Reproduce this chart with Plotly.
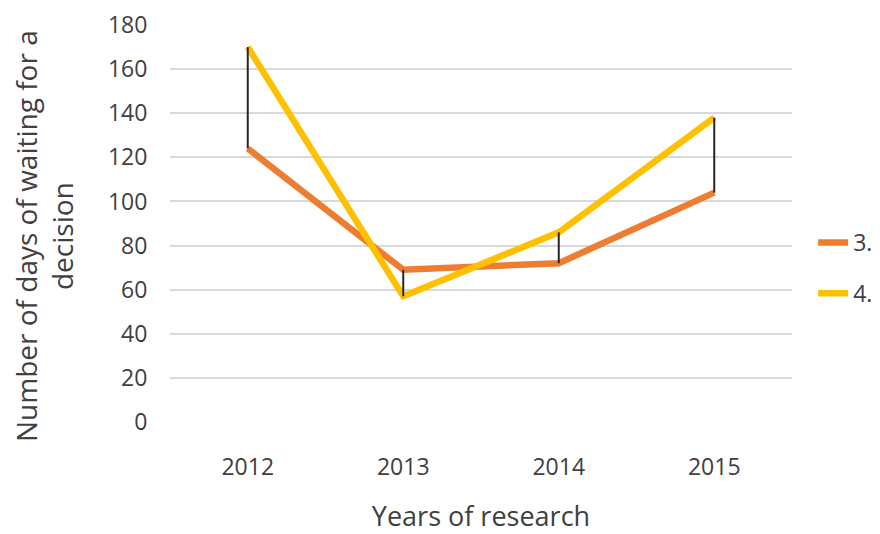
import plotly.graph_objects as go

years = ["2012", "2013", "2014", "2015"]
series3 = [124, 69, 72, 104]
series4 = [170, 57, 86, 138]
names = ["3.", "4."]
colors = ["#ED7D31", "#FFC000"]
y_ticks = [0, 20, 40, 60, 80, 100, 120, 140, 160, 180]
y_title = "Number of days of waiting for a<br>decision"
x_title = "Years of research"

FONT = "Open Sans"
TXT = "#404040"

fig = go.Figure()
for name, vals, col in zip(names, [series3, series4], colors):
    fig.add_trace(go.Scatter(
        x=years, y=vals, mode="lines", name=name,
        line=dict(color=col, width=6.5), legendgroup=name,
    ))

# high-low lines
hx, hy = [], []
for yr, a, b in zip(years, series3, series4):
    hx += [yr, yr, None]
    hy += [a, b, None]
fig.add_trace(go.Scatter(x=hx, y=hy, mode="lines", showlegend=False,
                         line=dict(color="#262626", width=2)))

fig.add_annotation(text=y_title, textangle=-90, xref="paper", yref="paper",
                   x=(44 - 170) / 622, y=(422 - 236) / 397,
                   xanchor="center", yanchor="middle", showarrow=False,
                   font=dict(size=28, color=TXT, family=FONT))

fig.update_layout(
    width=880, height=534,
    margin=dict(l=170, r=88, t=25, b=112, autoexpand=False),
    paper_bgcolor="white", plot_bgcolor="white",
    font=dict(family=FONT, color=TXT, size=23),
    showlegend=True,
    legend=dict(x=1.034, xanchor="left", y=0.388, yanchor="middle",
                font=dict(size=23, color=TXT), traceorder="grouped",
                tracegroupgap=18, itemwidth=30, bgcolor="rgba(0,0,0,0)"),
    xaxis=dict(type="category", range=[-0.5, 3.5], showgrid=False,
               showline=False, zeroline=False,
               ticks="outside", ticklen=24, tickcolor="rgba(0,0,0,0)",
               tickfont=dict(size=23, color=TXT),
               title=dict(text=x_title, font=dict(size=27, color=TXT), standoff=38)),
    yaxis=dict(range=[0, 180], tickvals=y_ticks, showgrid=True,
               gridcolor="#D9D9D9", gridwidth=2, zeroline=False, showline=False,
               ticks="outside", ticklen=17, tickcolor="rgba(0,0,0,0)",
               tickfont=dict(size=23, color=TXT)),
)

fig.write_html("out.html")
